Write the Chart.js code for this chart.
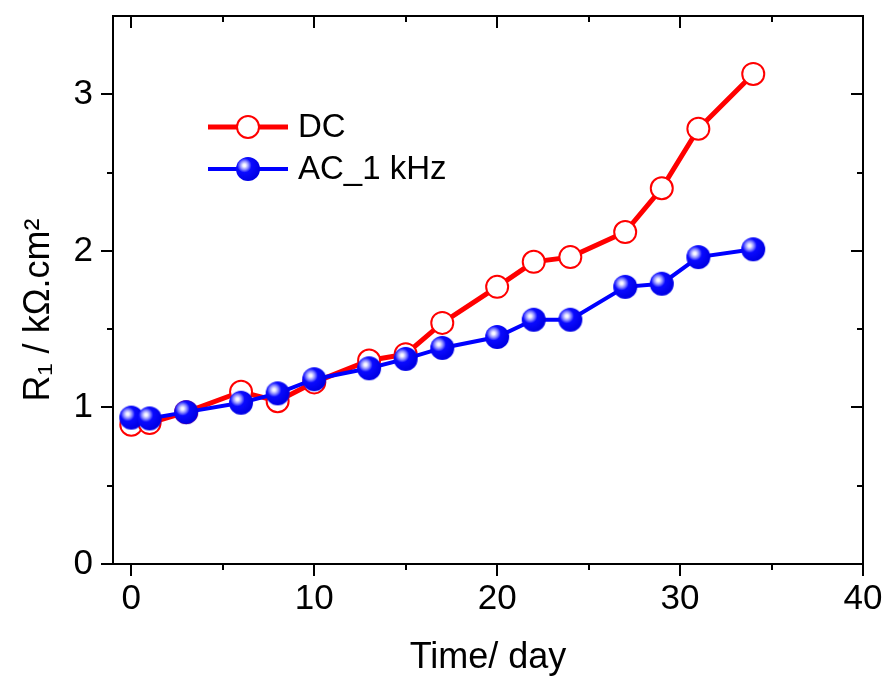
<!DOCTYPE html>
<html>
<head>
<meta charset="utf-8" />
<title>R1 vs time</title>
<style>
  html, body { margin: 0; padding: 0; background: #fff; }
  canvas { display: block; }
</style>
</head>
<body>
<canvas id="screen" width="886" height="684"></canvas>
<script src="https://cdn.jsdelivr.net/npm/chart.js@4.4.1/dist/chart.umd.min.js"></script>
<script>
  // values
  const days = [0, 1, 3, 6, 8, 10, 13, 15, 17, 20, 22, 24, 27, 29, 31, 34];
  const dcValues = [0.89, 0.90, 0.97, 1.10, 1.04, 1.16, 1.30, 1.34, 1.54, 1.77, 1.93, 1.96, 2.12, 2.40, 2.78, 3.13];
  const acValues = [0.935, 0.93, 0.97, 1.03, 1.09, 1.18, 1.25, 1.31, 1.38, 1.45, 1.56, 1.56, 1.77, 1.79, 1.96, 2.01];
  const seriesNames = ["DC", "AC_1 kHz"];
  const xTicks = [0, 10, 20, 30, 40];
  const xMinorTicks = [5, 15, 25, 35];
  const yTicks = [0, 1, 2, 3];
  const yMinorTicks = [0.5, 1.5, 2.5];
  const xTitle = "Time/ day";
  const yTitle = "R\u2081 / k\u03A9.cm\u00B2";

  const FONT = "'Liberation Sans', Arial, sans-serif";

  // shaded blue ball used as marker for the AC series
  function makeBall(r) {
    const c = document.createElement("canvas");
    const s = r * 2 + 2;
    c.width = s;
    c.height = s;
    const g = c.getContext("2d");
    const cx = s / 2, cy = s / 2;
    const hx = cx - r * 0.3, hy = cy - r * 0.3;
    const grad = g.createRadialGradient(hx, hy, 0, hx, hy, r * 1.25);
    grad.addColorStop(0, "#ffffff");
    grad.addColorStop(0.1, "#f0f0ff");
    grad.addColorStop(0.28, "#8c8cff");
    grad.addColorStop(0.48, "#0a0aff");
    grad.addColorStop(1, "#0000e6");
    g.fillStyle = grad;
    g.beginPath();
    g.arc(cx, cy, r, 0, Math.PI * 2);
    g.fill();
    return c;
  }
  const ball = makeBall(12);

  function points(vals) {
    return days.map((d, i) => ({ x: d, y: vals[i] }));
  }

  // no extra label padding, the plot box is placed by layout.padding
  function noPad(s) {
    s.paddingTop = 0;
    s.paddingBottom = 0;
    s.paddingLeft = 0;
    s.paddingRight = 0;
  }

  // axis box with ticks (outward on bottom/left, inward on top/right)
  const frame = {
    id: "frame",
    beforeDatasetsDraw(c) {
      const { ctx, chartArea: a, scales } = c;
      const x = scales.x, y = scales.y;
      ctx.save();
      ctx.strokeStyle = "#000";
      ctx.lineWidth = 2;
      ctx.strokeRect(a.left, a.top, a.right - a.left, a.bottom - a.top);
      ctx.beginPath();
      const xt = (v, len) => {
        const px = Math.round(x.getPixelForValue(v));
        ctx.moveTo(px, a.bottom); ctx.lineTo(px, a.bottom + len);
        ctx.moveTo(px, a.top); ctx.lineTo(px, a.top + len);
      };
      const yt = (v, len) => {
        const py = Math.round(y.getPixelForValue(v));
        ctx.moveTo(a.left - len, py); ctx.lineTo(a.left, py);
        ctx.moveTo(a.right - len, py); ctx.lineTo(a.right, py);
      };
      xTicks.forEach(v => xt(v, 12));
      xMinorTicks.forEach(v => xt(v, 6));
      yTicks.forEach(v => yt(v, 12));
      yMinorTicks.forEach(v => yt(v, 6));
      ctx.stroke();
      ctx.restore();
    },
    afterDraw(c) {
      const { ctx, chartArea: a } = c;
      ctx.save();
      ctx.font = "33px " + FONT;
      ctx.textBaseline = "middle";
      ctx.fillStyle = "#000";
      c.data.datasets.forEach((ds, i) => {
        const ly = a.top + 111 + i * 42;
        const x0 = a.left + 95, x1 = a.left + 175, mx = (x0 + x1) / 2;
        ctx.strokeStyle = ds.borderColor;
        ctx.lineWidth = ds.borderWidth;
        ctx.beginPath();
        ctx.moveTo(x0, ly);
        ctx.lineTo(x1, ly);
        ctx.stroke();
        if (typeof ds.pointStyle === "object") {
          ctx.drawImage(ds.pointStyle, mx - ds.pointStyle.width / 2, ly - ds.pointStyle.height / 2);
        } else {
          ctx.beginPath();
          ctx.arc(mx, ly, ds.pointRadius, 0, Math.PI * 2);
          ctx.fillStyle = ds.pointBackgroundColor;
          ctx.fill();
          ctx.lineWidth = ds.pointBorderWidth;
          ctx.strokeStyle = ds.pointBorderColor;
          ctx.stroke();
        }
        ctx.fillStyle = "#000";
        ctx.fillText(ds.label, x1 + 10, ly + 1);
      });
      ctx.restore();
    }
  };

  const ctx = document.getElementById("screen").getContext("2d");
  const chart = new Chart(ctx, {
    type: "line",
    data: {
      datasets: [
        {
          label: seriesNames[0],
          data: points(dcValues),
          borderColor: "#ff0000",
          borderWidth: 5,
          pointStyle: "circle",
          pointRadius: 11,
          pointBackgroundColor: "#ffffff",
          pointBorderColor: "#ff0000",
          pointBorderWidth: 2,
          order: 1
        },
        {
          label: seriesNames[1],
          data: points(acValues),
          borderColor: "#0000ff",
          borderWidth: 4,
          pointStyle: ball,
          pointRadius: 12,
          order: 0
        }
      ]
    },
    options: {
      responsive: false,
      animation: false,
      layout: { padding: { top: 10, right: 23, left: 0, bottom: 0 } },
      plugins: { legend: { display: false }, tooltip: { enabled: false } },
      scales: {
        x: {
          type: "linear",
          min: -1,
          max: 40,
          afterBuildTicks: s => { s.ticks = xTicks.map(v => ({ value: v })); },
          afterFit: s => { s.height = 120; noPad(s); },
          grid: { display: false, drawTicks: false },
          border: { display: false },
          ticks: { color: "#000", font: { family: FONT, size: 35 }, padding: 14, maxRotation: 0, callback: v => String(v) },
          title: { display: true, text: xTitle, color: "#000", font: { family: FONT, size: 36 }, padding: { top: 0, bottom: 4 } }
        },
        y: {
          type: "linear",
          min: 0,
          max: 3.5,
          afterBuildTicks: s => { s.ticks = yTicks.map(v => ({ value: v })); },
          afterFit: s => { s.width = 113; noPad(s); },
          grid: { display: false, drawTicks: false },
          border: { display: false },
          ticks: { color: "#000", font: { family: FONT, size: 35 }, padding: 20, callback: v => String(v) },
          // trailing spaces push the rotated title a little lower, as in the original
          title: { display: true, text: yTitle + "    ", color: "#000", font: { family: FONT, size: 36 }, padding: { top: 17, bottom: 0 } }
        }
      }
    },
    plugins: [frame]
  });
</script>
</body>
</html>
